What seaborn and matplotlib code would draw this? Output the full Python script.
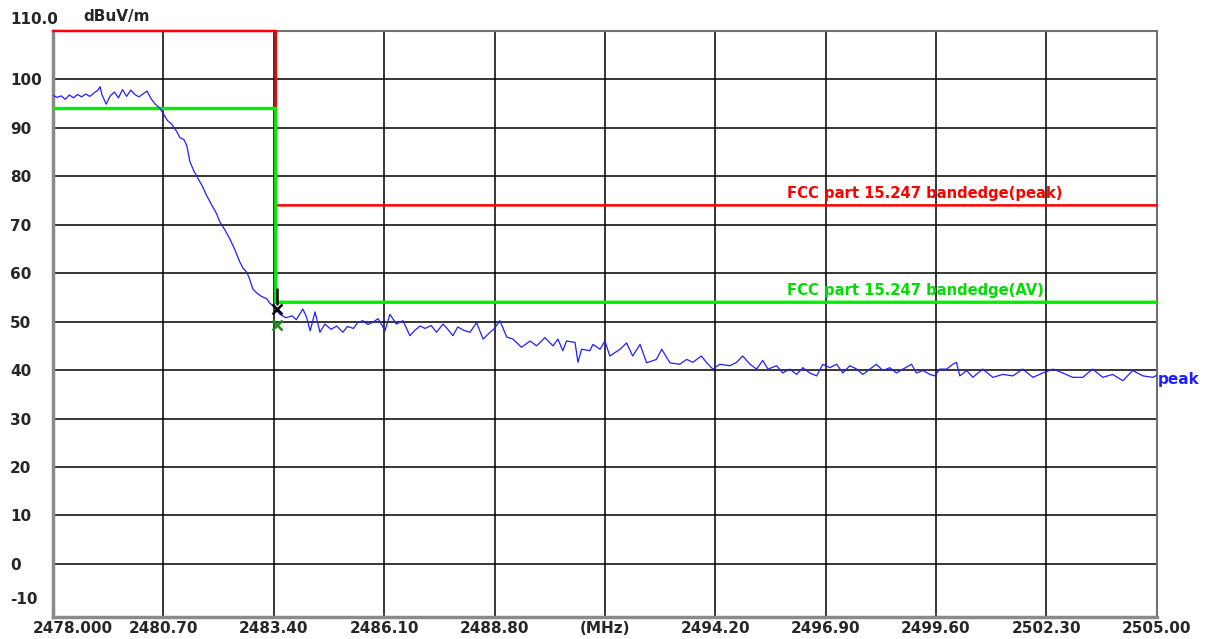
import matplotlib
matplotlib.use('Agg')
import matplotlib.pyplot as plt
import matplotlib.transforms as mtransforms
import pandas as pd
import seaborn as sns

# measured trace (MHz, dBuV/m)
freq = [2478.0, 2478.1, 2478.2, 2478.3, 2478.4, 2478.5, 2478.6, 2478.7, 2478.8, 2478.9,
        2479.0, 2479.1, 2479.15, 2479.2, 2479.3, 2479.4, 2479.5, 2479.6, 2479.7, 2479.8,
        2479.9, 2480.0, 2480.1, 2480.2, 2480.3, 2480.4, 2480.5, 2480.62, 2480.8, 2480.9,
        2481.03, 2481.1, 2481.2, 2481.27, 2481.35, 2481.45, 2481.55, 2481.65, 2481.76, 2481.9,
        2482.0, 2482.08, 2482.2, 2482.33, 2482.45, 2482.57, 2482.65, 2482.74, 2482.8, 2482.89,
        2483.0, 2483.1, 2483.23, 2483.3, 2483.38, 2483.45, 2483.55, 2483.7, 2483.85, 2483.95,
        2484.11, 2484.2, 2484.29, 2484.41, 2484.53, 2484.65, 2484.8, 2484.94, 2485.09, 2485.2,
        2485.35, 2485.45, 2485.58, 2485.7, 2485.83, 2485.95, 2486.05, 2486.12, 2486.24, 2486.4,
        2486.56, 2486.73, 2486.85, 2486.98, 2487.1, 2487.25, 2487.38, 2487.54, 2487.65, 2487.78,
        2487.9, 2488.05, 2488.2, 2488.36, 2488.52, 2488.69, 2488.8, 2488.93, 2489.1, 2489.25,
        2489.46, 2489.67, 2489.83, 2490.03, 2490.23, 2490.35, 2490.47, 2490.56, 2490.77, 2490.84,
        2490.93, 2491.13, 2491.21, 2491.38, 2491.5, 2491.62, 2491.87, 2492.03, 2492.18, 2492.36,
        2492.52, 2492.76, 2492.89, 2493.09, 2493.33, 2493.5, 2493.65, 2493.86, 2493.99, 2494.14,
        2494.31, 2494.56, 2494.72, 2494.87, 2495.05, 2495.21, 2495.36, 2495.49, 2495.7, 2495.85,
        2496.02, 2496.19, 2496.34, 2496.51, 2496.68, 2496.83, 2497.0, 2497.17, 2497.32, 2497.49,
        2497.66, 2497.81, 2497.98, 2498.14, 2498.3, 2498.47, 2498.63, 2498.79, 2499.0, 2499.12,
        2499.28, 2499.45, 2499.57, 2499.69, 2499.86, 2500.01, 2500.1, 2500.18, 2500.35, 2500.5,
        2500.74, 2500.99, 2501.23, 2501.48, 2501.72, 2501.97, 2502.21, 2502.46, 2502.7, 2502.94,
        2503.19, 2503.43, 2503.68, 2503.92, 2504.17, 2504.41, 2504.66, 2504.9, 2505.0]
level = [96.7, 96.3, 96.6, 95.9, 96.8, 96.2, 96.9, 96.4, 97.0, 96.5,
         97.2, 97.8, 98.5, 96.8, 94.9, 96.6, 97.4, 96.2, 97.9, 96.5,
         97.8, 96.9, 96.4, 97.0, 97.6, 96.0, 94.9, 94.0, 91.5, 90.8,
         89.2, 88.0, 87.6, 86.4, 83.0, 81.0, 79.5, 78.0, 76.0, 73.8,
         72.3, 70.6, 69.0, 67.0, 64.8, 62.3, 61.0, 60.2, 59.0, 56.7,
         55.8, 55.2, 54.7, 53.8, 53.3, 52.5, 51.5, 50.8, 51.2, 50.4,
         52.6, 51.0, 48.1, 52.0, 47.8, 49.5, 48.4, 49.1, 47.8, 49.0,
         48.6, 49.8, 50.2, 49.4, 49.9, 50.6, 49.2, 48.1, 51.5, 49.5,
         50.2, 47.1, 48.2, 49.1, 48.6, 49.2, 47.8, 49.5, 48.5, 47.1,
         48.9, 48.2, 47.8, 49.8, 46.4, 47.8, 48.6, 50.2, 46.8, 46.4,
         44.7, 46.0, 45.0, 46.7, 45.0, 46.4, 44.0, 46.0, 45.7, 41.6,
         44.3, 44.0, 45.3, 44.3, 46.0, 42.9, 44.3, 45.6, 42.9, 45.3,
         41.5, 42.2, 44.3, 41.5, 41.2, 42.2, 41.6, 42.9, 41.5, 40.2,
         41.2, 40.9, 41.6, 42.9, 41.2, 40.2, 42.0, 40.2, 40.9, 39.4,
         40.2, 39.1, 40.5, 39.4, 38.8, 41.2, 40.5, 41.2, 39.4, 40.9,
         40.2, 39.1, 40.2, 41.2, 39.9, 40.5, 39.4, 40.2, 41.2, 39.4,
         39.9, 39.1, 38.8, 40.2, 40.2, 41.2, 41.6, 38.8, 39.9, 38.5,
         40.2, 38.5, 39.1, 38.8, 40.2, 38.5, 39.4, 40.2, 39.4, 38.5,
         38.5, 40.2, 38.5, 39.1, 37.8, 39.9, 38.8, 38.5, 38.9]

# limit lines
peak_limit_freq = [2478.0, 2483.45, 2483.45, 2505.0]
peak_limit_level = [110.0, 110.0, 74.0, 74.0]
av_limit_freq = [2478.0, 2483.45, 2483.45, 2505.0]
av_limit_level = [94.0, 94.0, 54.0, 54.0]

# markers at band edge
marker_freq = 2483.47
marker_peak = 52.6
marker_av = 49.3

x_ticks = [2478.0, 2480.7, 2483.4, 2486.1, 2488.8, 2491.5, 2494.2, 2496.9, 2499.6, 2502.3, 2505.0]
x_labels = ['2478.000', '2480.70', '2483.40', '2486.10', '2488.80', '(MHz)',
            '2494.20', '2496.90', '2499.60', '2502.30', '2505.00']
y_ticks = [0, 10, 20, 30, 40, 50, 60, 70, 80, 90, 100]
y_labels = ['0', '10', '20', '30', '40', '50', '60', '70', '80', '90', '100']

sns.set_style('white')
plt.rcParams['font.family'] = ['DejaVu Sans']

fig = plt.figure(figsize=(12.05, 6.39), dpi=100)
ax = fig.add_axes([0.044, 0.035, 0.916, 0.9165])

# grid
for x in x_ticks[1:-1]:
    ax.axvline(x, color='black', lw=1.1, zorder=1)
for y in y_ticks:
    ax.axhline(y, color='black', lw=1.1, zorder=1)

df = pd.DataFrame({'freq': freq, 'level': level})
sns.lineplot(data=df, x='freq', y='level', color='#2020ff', lw=0.9,
             estimator=None, sort=False, ax=ax, zorder=4)

sns.lineplot(x=peak_limit_freq, y=peak_limit_level, color='#ff0000', lw=1.8,
             estimator=None, sort=False, ax=ax, zorder=3, clip_on=False, snap=False)
sns.lineplot(x=av_limit_freq, y=av_limit_level, color='#00ee00', lw=2.4,
             estimator=None, sort=False, ax=ax, zorder=3.5, snap=False)

ax.plot([marker_freq, marker_freq], [marker_peak + 1, marker_peak + 4.2], color='black', lw=1.8, zorder=6)
ax.plot(marker_freq, marker_peak, marker='x', color='black', ms=7, mew=1.8, zorder=6)
ax.plot(marker_freq, marker_av, marker='x', color='#1a8a1a', ms=7, mew=1.8, zorder=6)

ax.text(2495.95, 75.0, 'FCC part 15.247 bandedge(peak)', color='#ff0000',
        fontsize=10.6, fontweight='bold', va='bottom', ha='left')
ax.text(2495.95, 54.9, 'FCC part 15.247 bandedge(AV)', color='#00dd00',
        fontsize=10.6, fontweight='bold', va='bottom', ha='left')

ax.set_xlim(2478.0, 2505.0)
ax.set_ylim(-10.9, 110.0)
ax.set_xticks(x_ticks)
ax.set_xticklabels(x_labels, fontsize=11, fontweight='bold')
ax.set_yticks(y_ticks)
ax.set_yticklabels(y_labels, fontsize=11, fontweight='bold', ha='left')
ax.tick_params(axis='y', length=0, pad=31)
ax.tick_params(axis='x', length=0, pad=3)
ax.set_xlabel('')
ax.set_ylabel('')

first = ax.get_xticklabels()[0]
first.set_transform(first.get_transform() + mtransforms.ScaledTranslation(0.2, 0, fig.dpi_scale_trans))

for side in ['left', 'bottom']:
    ax.spines[side].set_color('#8a8a8a')
    ax.spines[side].set_linewidth(2.5)
for side in ['top', 'right']:
    ax.spines[side].set_color('#707070')
    ax.spines[side].set_linewidth(1.5)

ydata = mtransforms.blended_transform_factory(ax.transAxes, ax.transData)
ax.text(-43 / 1104, -7.3, '-10', transform=ydata,
        fontsize=11, fontweight='bold', ha='left', va='center')
fig.text(10 / 1205, 1 - 19 / 639, '110.0', fontsize=11, fontweight='bold', ha='left', va='center')
fig.text(83 / 1205, 1 - 17 / 639, 'dBuV/m', fontsize=11, fontweight='bold', ha='left', va='center')
ax.text(1.001, 38.1, 'peak', transform=ydata,
        color='#2020ff', fontsize=11, fontweight='bold', ha='left', va='center')

fig.savefig('out.png', dpi=100, facecolor='white')
